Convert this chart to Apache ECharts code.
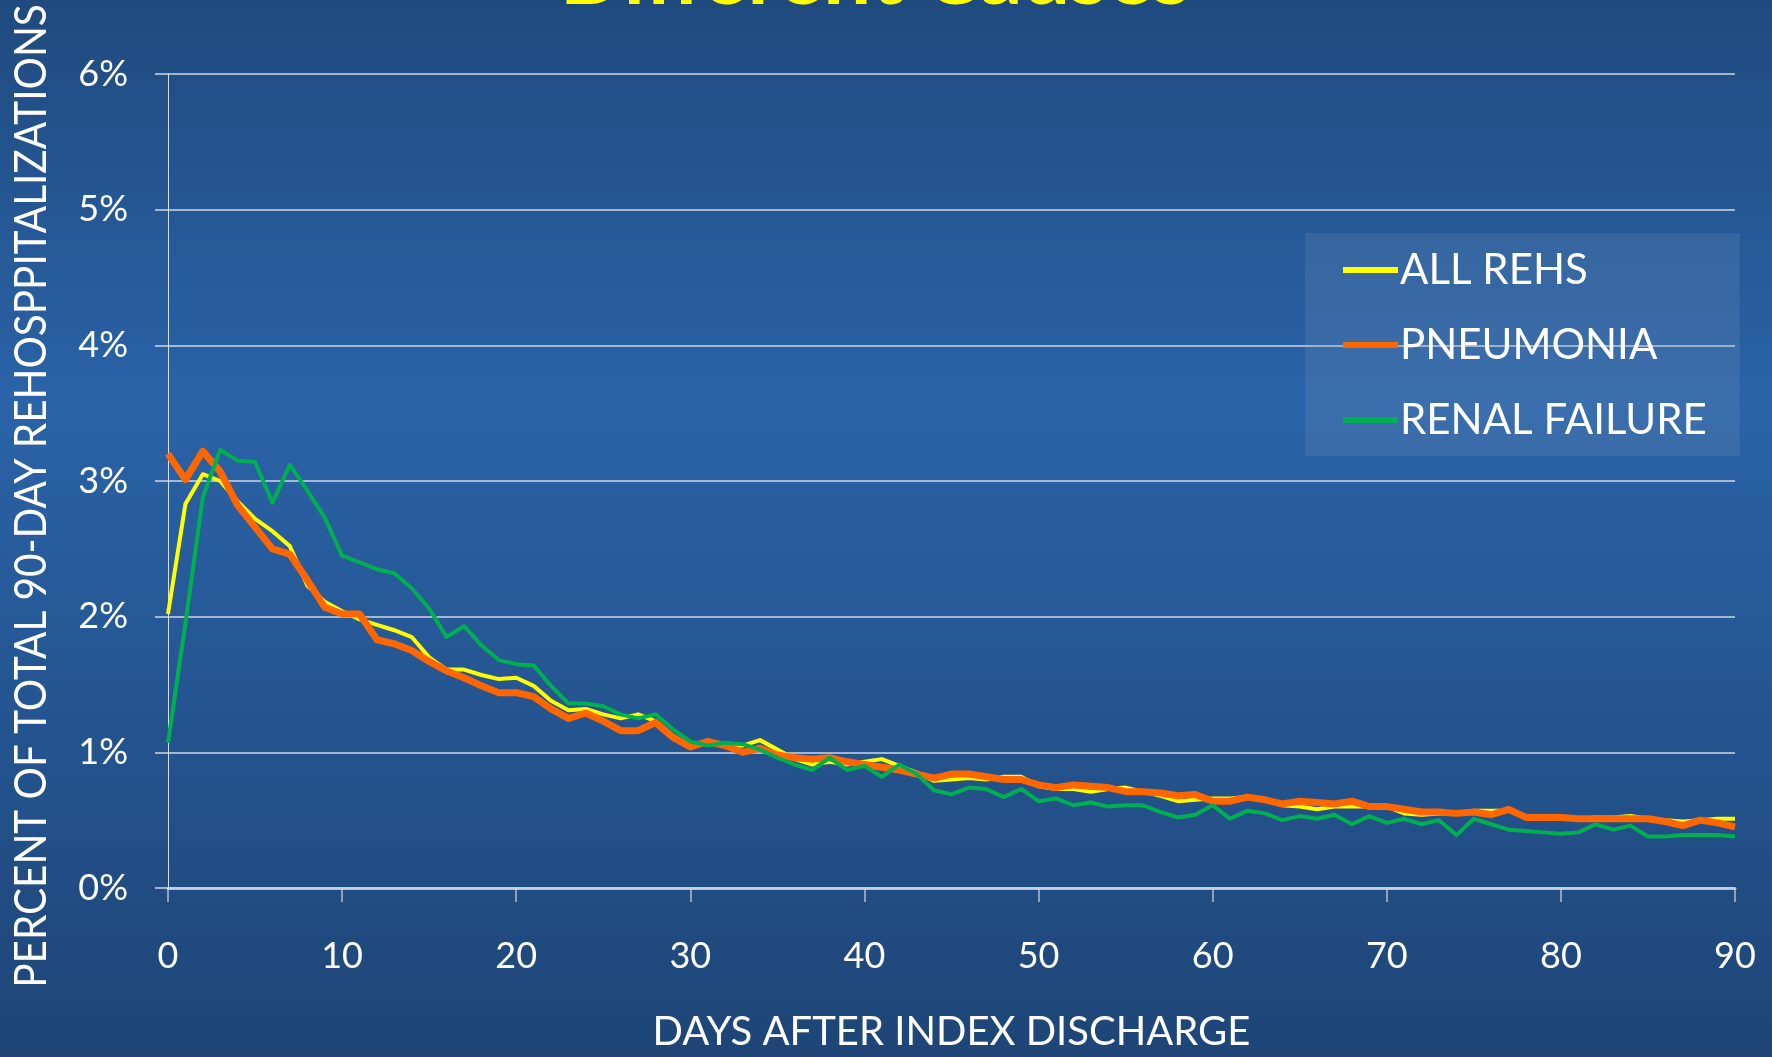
<!DOCTYPE html>
<html>
<head>
<meta charset="utf-8">
<title>Different Causes</title>
<script src="https://cdn.jsdelivr.net/npm/echarts@6/dist/echarts.min.js"></script>
<style>
  html, body { margin: 0; padding: 0; width: 100%; height: 100%; overflow: hidden; }
  #chart { width: 1772px; height: 1057px; }
</style>
</head>
<body>
<div id="chart"></div>
<script>
// Share of all 90-day rehospitalizations that fall on each day after discharge (%)
const seriesNames = ['ALL REHS', 'PNEUMONIA', 'RENAL FAILURE'];
const seriesColors = ['#ffff00', '#ff6600', '#00b050'];
const yTicks = [0, 1, 2, 3, 4, 5, 6];
const xTicks = [0, 10, 20, 30, 40, 50, 60, 70, 80, 90];

const allRehs = [
  2.02, 2.83, 3.05, 3.00, 2.85, 2.72, 2.63, 2.52, 2.23, 2.11,
  2.04, 1.98, 1.94, 1.90, 1.85, 1.70, 1.61, 1.61, 1.57, 1.54,
  1.55, 1.49, 1.38, 1.31, 1.32, 1.28, 1.25, 1.28, 1.23, 1.12,
  1.05, 1.07, 1.05, 1.05, 1.09, 1.02, 0.95, 0.91, 0.93, 0.91,
  0.93, 0.95, 0.90, 0.85, 0.79, 0.80, 0.81, 0.80, 0.82, 0.82,
  0.75, 0.73, 0.73, 0.71, 0.73, 0.74, 0.71, 0.68, 0.64, 0.65,
  0.66, 0.66, 0.67, 0.65, 0.61, 0.60, 0.58, 0.60, 0.60, 0.60,
  0.60, 0.55, 0.54, 0.55, 0.55, 0.57, 0.57, 0.57, 0.52, 0.52,
  0.51, 0.51, 0.52, 0.52, 0.53, 0.51, 0.50, 0.49, 0.50, 0.51,
  0.51
];

const pneumonia = [
  3.20, 3.01, 3.22, 3.07, 2.82, 2.66, 2.50, 2.46, 2.27, 2.07,
  2.02, 2.02, 1.83, 1.80, 1.75, 1.67, 1.60, 1.55, 1.49, 1.44,
  1.44, 1.41, 1.32, 1.25, 1.29, 1.23, 1.16, 1.16, 1.22, 1.11,
  1.04, 1.08, 1.05, 1.00, 1.03, 0.98, 0.96, 0.95, 0.96, 0.93,
  0.91, 0.89, 0.87, 0.84, 0.81, 0.84, 0.84, 0.82, 0.80, 0.80,
  0.76, 0.74, 0.76, 0.75, 0.74, 0.71, 0.71, 0.70, 0.68, 0.69,
  0.64, 0.64, 0.67, 0.65, 0.62, 0.64, 0.63, 0.62, 0.64, 0.60,
  0.60, 0.58, 0.56, 0.56, 0.55, 0.56, 0.54, 0.58, 0.52, 0.52,
  0.52, 0.51, 0.51, 0.51, 0.51, 0.51, 0.49, 0.46, 0.50, 0.48,
  0.45
];

const renalFailure = [
  1.07, 1.95, 2.88, 3.23, 3.15, 3.14, 2.84, 3.12, 2.93, 2.73,
  2.45, 2.40, 2.35, 2.32, 2.21, 2.06, 1.85, 1.93, 1.79, 1.68,
  1.65, 1.64, 1.49, 1.36, 1.36, 1.34, 1.28, 1.25, 1.28, 1.17,
  1.08, 1.05, 1.07, 1.06, 1.02, 0.96, 0.91, 0.87, 0.96, 0.87,
  0.90, 0.82, 0.91, 0.84, 0.72, 0.69, 0.74, 0.73, 0.67, 0.73,
  0.64, 0.66, 0.61, 0.63, 0.60, 0.61, 0.61, 0.56, 0.52, 0.54,
  0.61, 0.51, 0.57, 0.55, 0.50, 0.53, 0.51, 0.54, 0.47, 0.53,
  0.48, 0.51, 0.47, 0.50, 0.39, 0.51, 0.47, 0.43, 0.42, 0.41,
  0.40, 0.41, 0.47, 0.43, 0.46, 0.38, 0.38, 0.39, 0.39, 0.39,
  0.38
];

const seriesValues = [allRehs, pneumonia, renalFailure];
const lineWidths = [4, 7, 4];

// pair each value with its day number (day 0 .. day 90)
function toPoints(values) {
  return values.map(function (v, day) { return [day, v]; });
}

const FONT = 'Lato, "Open Sans", "DejaVu Sans", sans-serif';
const chart = echarts.init(document.getElementById('chart'), null, { renderer: 'canvas' });

const option = {
  animation: false,
  backgroundColor: {
    type: 'linear', x: 0, y: 0, x2: 0, y2: 1,
    colorStops: [
      { offset: 0, color: '#1f4a7e' },
      { offset: 0.38, color: '#2a63a8' },
      { offset: 1, color: '#1e4576' }
    ]
  },
  grid: { left: 168, right: 37, top: 74, bottom: 164, containLabel: false },
  graphic: [
    {
      type: 'text', x: 875, y: -66,
      style: {
        text: 'Different Causes', fill: '#ffff00',
        font: 'bold 85px ' + FONT, align: 'center'
      }
    },
    {
      type: 'text', x: 32, y: 496, rotation: Math.PI / 2,
      scaleX: 0.92,
      style: {
        text: 'PERCENT OF TOTAL 90-DAY REHOSPPITALIZATIONS',
        fill: '#ffffff', font: '44px ' + FONT,
        align: 'center', verticalAlign: 'middle'
      }
    }
  ],
  legend: {
    orient: 'vertical',
    left: 1305, top: 233,
    padding: [16, 33, 15, 38],
    itemGap: 33,
    itemWidth: 55, itemHeight: 6,
    backgroundColor: 'rgba(120,150,190,0.22)',
    textStyle: { color: '#ffffff', fontSize: 42, fontFamily: FONT, padding: [0, 0, 0, -3] },
    data: seriesNames.map(function (n) { return { name: n, icon: 'rect' }; })
  },
  xAxis: {
    type: 'value', min: 0, max: 90, interval: 10,
    name: 'DAYS AFTER INDEX DISCHARGE',
    nameLocation: 'middle', nameGap: 124,
    nameTextStyle: { color: '#ffffff', fontSize: 40, fontFamily: FONT },
    axisLine: { show: true, onZero: false, lineStyle: { color: 'rgba(200,212,228,0.85)', width: 3 } },
    axisTick: { show: true, length: 14, lineStyle: { color: 'rgba(200,212,228,0.85)', width: 1.5 } },
    axisLabel: {
      color: '#ffffff', fontSize: 36, fontFamily: FONT, margin: 50,
      customValues: xTicks
    },
    splitLine: { show: false }
  },
  yAxis: {
    type: 'value', min: 0, max: 6, interval: 1,
    axisLine: { show: true, lineStyle: { color: 'rgba(230,236,245,0.9)', width: 1 } },
    axisTick: { show: true, length: 13, lineStyle: { color: 'rgba(205,215,230,0.75)', width: 2 } },
    axisLabel: {
      color: '#ffffff', fontSize: 36, fontFamily: FONT, margin: 40,
      formatter: function (v) { return yTicks.indexOf(v) >= 0 ? v + '%' : ''; }
    },
    splitLine: { show: true, lineStyle: { color: 'rgba(205,215,230,0.75)', width: 2 } }
  },
  series: seriesNames.map(function (name, i) {
    return {
      name: name,
      type: 'line',
      data: toPoints(seriesValues[i]),
      showSymbol: false,
      symbol: 'none',
      lineStyle: { color: seriesColors[i], width: lineWidths[i], join: 'round' },
      itemStyle: { color: seriesColors[i] },
      z: 2 + i
    };
  })
};

chart.setOption(option);
</script>
</body>
</html>
